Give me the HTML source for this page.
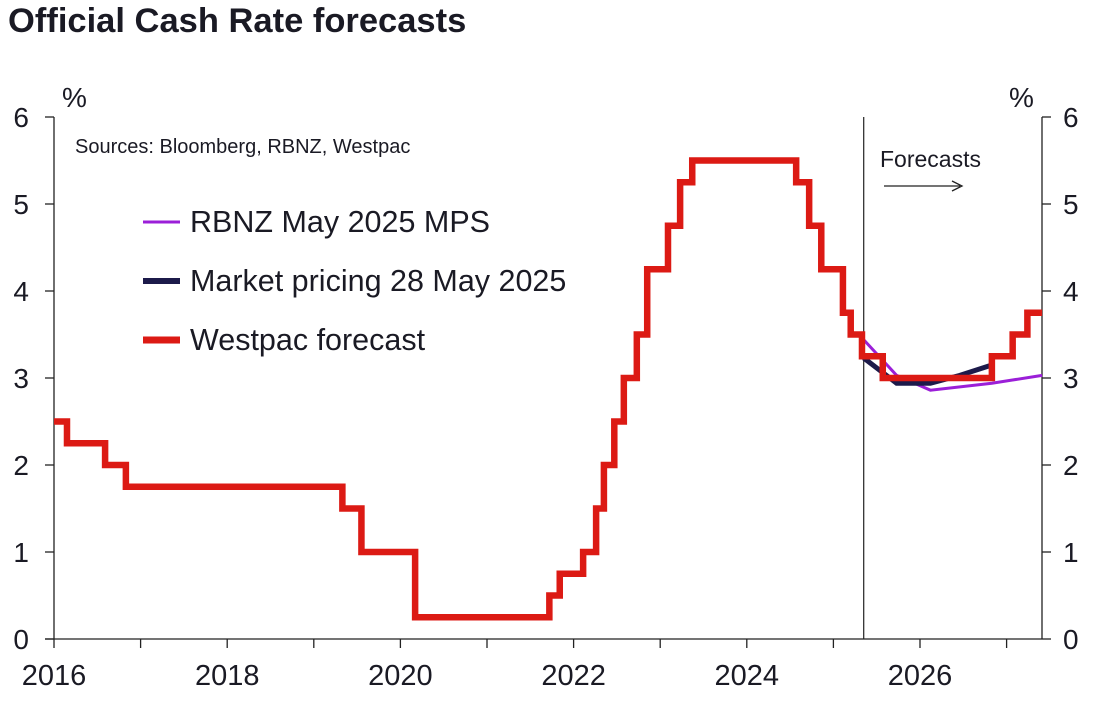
<!DOCTYPE html>
<html><head><meta charset="utf-8"><style>
body{margin:0;background:#fff;}
svg text{font-family:"Liberation Sans",sans-serif;fill:#1a1a24;}
</style></head><body>
<svg width="1096" height="718" id="chart">
<text x="8" y="32" font-size="34.5" font-weight="bold">Official Cash Rate forecasts</text>
<text x="62" y="107" font-size="28">%</text>
<text x="1009" y="107" font-size="28">%</text>
<text x="75" y="153" font-size="20">Sources: Bloomberg, RBNZ, Westpac</text>
<text x="880" y="167" font-size="23">Forecasts</text>
<g><line x1="884" y1="186" x2="960" y2="186" stroke="#222" stroke-width="1.3"/><path d="M952,181 L962,186 L952,191" fill="none" stroke="#222" stroke-width="1.3"/></g>
<g id="axes"></g>
<g id="series"></g>
<g>
<line x1="143" y1="222" x2="180" y2="222" stroke="#9b1fd8" stroke-width="3"/>
<text x="190" y="232" font-size="30.5">RBNZ May 2025 MPS</text>
<line x1="143" y1="281" x2="180" y2="281" stroke="#1c1a4a" stroke-width="6"/>
<text x="190" y="291" font-size="30.5">Market pricing 28 May 2025</text>
<line x1="143" y1="340" x2="180" y2="340" stroke="#dc1a14" stroke-width="7"/>
<text x="190" y="350" font-size="30.5">Westpac forecast</text>
</g>
</svg>
<script>
const westpacDates=[2016.0,2016.15,2016.59,2016.83,2019.33,2019.55,2020.17,2021.72,2021.84,2022.11,2022.26,2022.35,2022.47,2022.58,2022.73,2022.85,2023.09,2023.23,2023.37,2024.57,2024.72,2024.86,2025.11,2025.2,2025.33,2025.57,2026.83,2027.07,2027.24];
const westpacValues=[2.5,2.25,2.0,1.75,1.5,1.0,0.25,0.5,0.75,1.0,1.5,2.0,2.5,3.0,3.5,4.25,4.75,5.25,5.5,5.25,4.75,4.25,3.75,3.5,3.25,3.0,3.25,3.5,3.75];
const westpacEnd=2027.41;
const rbnzDates=[2025.35,2025.73,2026.12,2026.83,2027.41];
const rbnzValues=[3.44,3.03,2.86,2.94,3.03];
const marketDates=[2025.35,2025.73,2026.12,2026.46,2026.83];
const marketValues=[3.23,2.94,2.94,3.03,3.15];
const yTicks=[0,1,2,3,4,5,6];
const xLabels=[2016,2018,2020,2022,2024,2026];
const forecastStart=2025.35;
const NS="http://www.w3.org/2000/svg";
const X=y=>54+(y-2016)*86.6, Y=v=>639-v*87;
const axes=document.getElementById('axes'), ser=document.getElementById('series');
function mk(tag,at,p){const e=document.createElementNS(NS,tag);for(const k in at)e.setAttribute(k,at[k]);p.appendChild(e);return e;}
let e=mk('line',{x1:54,y1:117,x2:54,y2:639,stroke:'#222','stroke-width':1.3},axes);


e=mk('line',{x1:1042,y1:117,x2:1042,y2:639,stroke:'#222','stroke-width':1.3},axes);


e=mk('line',{x1:45,y1:639,x2:1042,y2:639,stroke:'#222','stroke-width':1.3},axes);


e=mk('line',{x1:X(forecastStart),y1:117,x2:X(forecastStart),y2:639,stroke:'#222','stroke-width':1.2},axes);


yTicks.forEach(v=>{
 mk('line',{x1:45,y1:Y(v),x2:54,y2:Y(v),stroke:'#222','stroke-width':1.3},axes);
 mk('line',{x1:1042,y1:Y(v),x2:1051,y2:Y(v),stroke:'#222','stroke-width':1.3},axes);
 let t=mk('text',{x:29,y:Y(v)+10,'font-size':28,'text-anchor':'end'},axes);t.textContent=v;
 
 
 t=mk('text',{x:1063,y:Y(v)+10,'font-size':28},axes);t.textContent=v;
 
 
});
for(let yr=2016;yr<=2027;yr++) mk('line',{x1:X(yr),y1:639,x2:X(yr),y2:648,stroke:'#222','stroke-width':1.3},axes);
xLabels.forEach(yr=>{const t=mk('text',{x:X(yr),y:685,'font-size':29,'text-anchor':'middle'},axes);t.textContent=yr;
 
 });
function pts(d,v){return d.map((x,i)=>X(x)+','+Y(v[i])).join(' ');}
e=mk('polyline',{points:pts(rbnzDates,rbnzValues),fill:'none',stroke:'#9b1fd8','stroke-width':3},ser);


e=mk('polyline',{points:pts(marketDates,marketValues),fill:'none',stroke:'#1c1a4a','stroke-width':5},ser);


let s=[];
westpacDates.forEach((d,i)=>{if(i>0)s.push(X(d)+','+Y(westpacValues[i-1]));s.push(X(d)+','+Y(westpacValues[i]));});
s.push(X(westpacEnd)+','+Y(westpacValues[westpacValues.length-1]));
e=mk('polyline',{points:s.join(' '),fill:'none',stroke:'#dc1a14','stroke-width':6.5,'stroke-linejoin':'miter'},ser);


</script>
</body></html>
